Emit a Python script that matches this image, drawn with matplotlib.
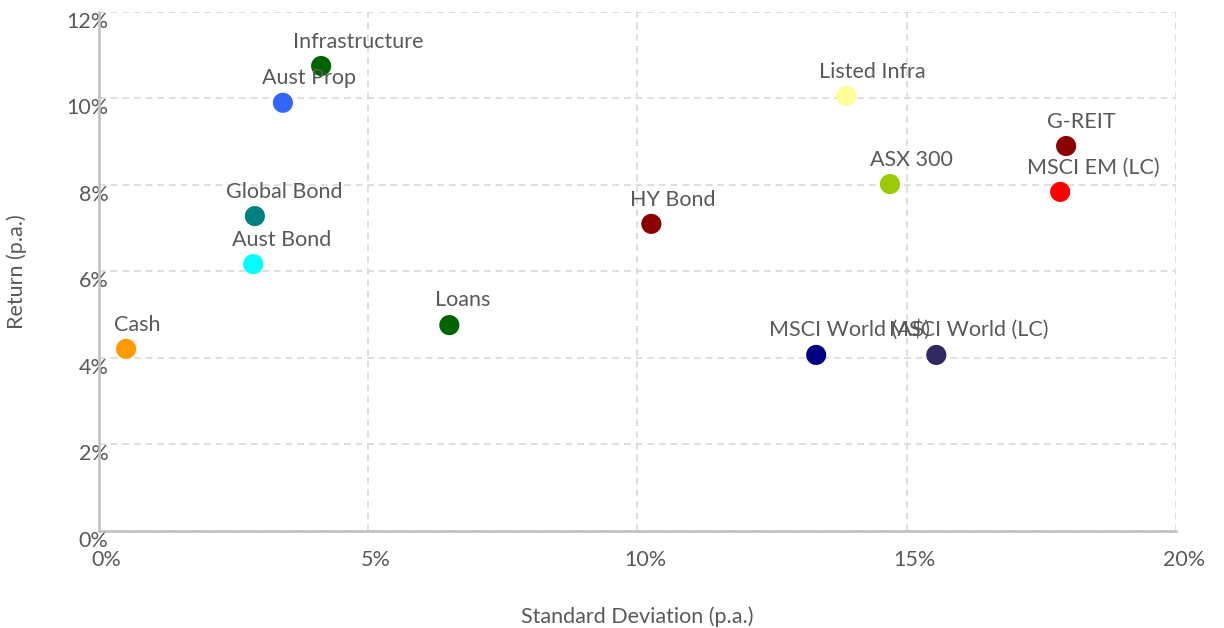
import numpy as np
import matplotlib
matplotlib.use("Agg")
import matplotlib.pyplot as plt
import matplotlib.transforms as mtransforms
from matplotlib.ticker import PercentFormatter

# asset classes: risk (std dev, %) vs return (%)
names = ["Cash", "Aust Bond", "Global Bond", "Aust Prop", "Infrastructure",
         "Loans", "HY Bond", "MSCI World (A$)", "MSCI World (LC)",
         "Listed Infra", "ASX 300", "G-REIT", "MSCI EM (LC)"]
std_dev = [0.51, 2.87, 2.90, 3.42, 4.13, 6.51, 10.26, 13.32, 15.55,
           13.88, 14.69, 17.96, 17.85]
returns = [4.21, 6.17, 7.28, 9.90, 10.75, 4.76, 7.10, 4.07, 4.07,
           10.06, 8.02, 8.90, 7.84]
colours = ["#FF9A00", "#00FFFF", "#008080", "#3366FF", "#006400",
           "#006400", "#8B0000", "#000080", "#312A62",
           "#FFFF99", "#99CC00", "#8B0000", "#FF0000"]

# label offsets from the dot, in pixels
label_dx = [11, 28, 29, 26, 37, 13, 21, 33, 32, 26, 21, 15, 33]
label_dy = [24, 24, 24, 25, 24, 25, 24, 25, 25, 24, 24, 24, 24]

grey_text = "#595959"
plt.rcParams["font.family"] = ["Lato", "DejaVu Sans"]
fs = 15.5

fig = plt.figure(figsize=(12.24, 6.28), dpi=100)
ax = fig.add_axes([0.0806, 0.1545, 0.8802, 0.8265])

ax.scatter(std_dev, returns, s=210, c=colours, zorder=3, linewidths=0)

for name, x, y, dx, dy in zip(names, std_dev, returns, label_dx, label_dy):
    ax.annotate(name, (x, y), xytext=(dx, dy), textcoords="offset pixels",
                ha="center", va="center", fontsize=fs, color=grey_text,
                zorder=4)

ax.set_xlim(0, 20)
ax.set_ylim(0, 12)
ax.set_xticks([0, 5, 10, 15, 20])
ax.set_yticks([0, 2, 4, 6, 8, 10, 12])
ax.xaxis.set_major_formatter(PercentFormatter(decimals=0))
ax.yaxis.set_major_formatter(PercentFormatter(decimals=0))

ax.grid(True, linestyle=(0, (4, 3)), color="#D9D9D9", linewidth=1.2, zorder=0)
ax.set_axisbelow(True)
for side in ["top", "right"]:
    ax.spines[side].set_visible(False)
for side in ["left", "bottom"]:
    ax.spines[side].set_color("#BFBFBF")
    ax.spines[side].set_linewidth(1.8)

ax.tick_params(axis="both", length=0, labelsize=fs, labelcolor=grey_text)
ax.tick_params(axis="y", pad=-7)
ax.tick_params(axis="x", pad=14)

# tick labels in the reference sit a little off their gridlines
yshift = mtransforms.ScaledTranslation(0, -8 / 100, fig.dpi_scale_trans)
for lab in ax.get_yticklabels():
    lab.set_transform(lab.get_transform() + yshift)
xshift = mtransforms.ScaledTranslation(8 / 100, 0, fig.dpi_scale_trans)
for lab in ax.get_xticklabels():
    lab.set_transform(lab.get_transform() + xshift)

ax.set_xlabel("Standard Deviation (p.a.)", fontsize=fs, color=grey_text,
              labelpad=26)
ax.set_ylabel("Return (p.a.)", fontsize=fs, color=grey_text, labelpad=28)

fig.savefig("out.png", dpi=100)
